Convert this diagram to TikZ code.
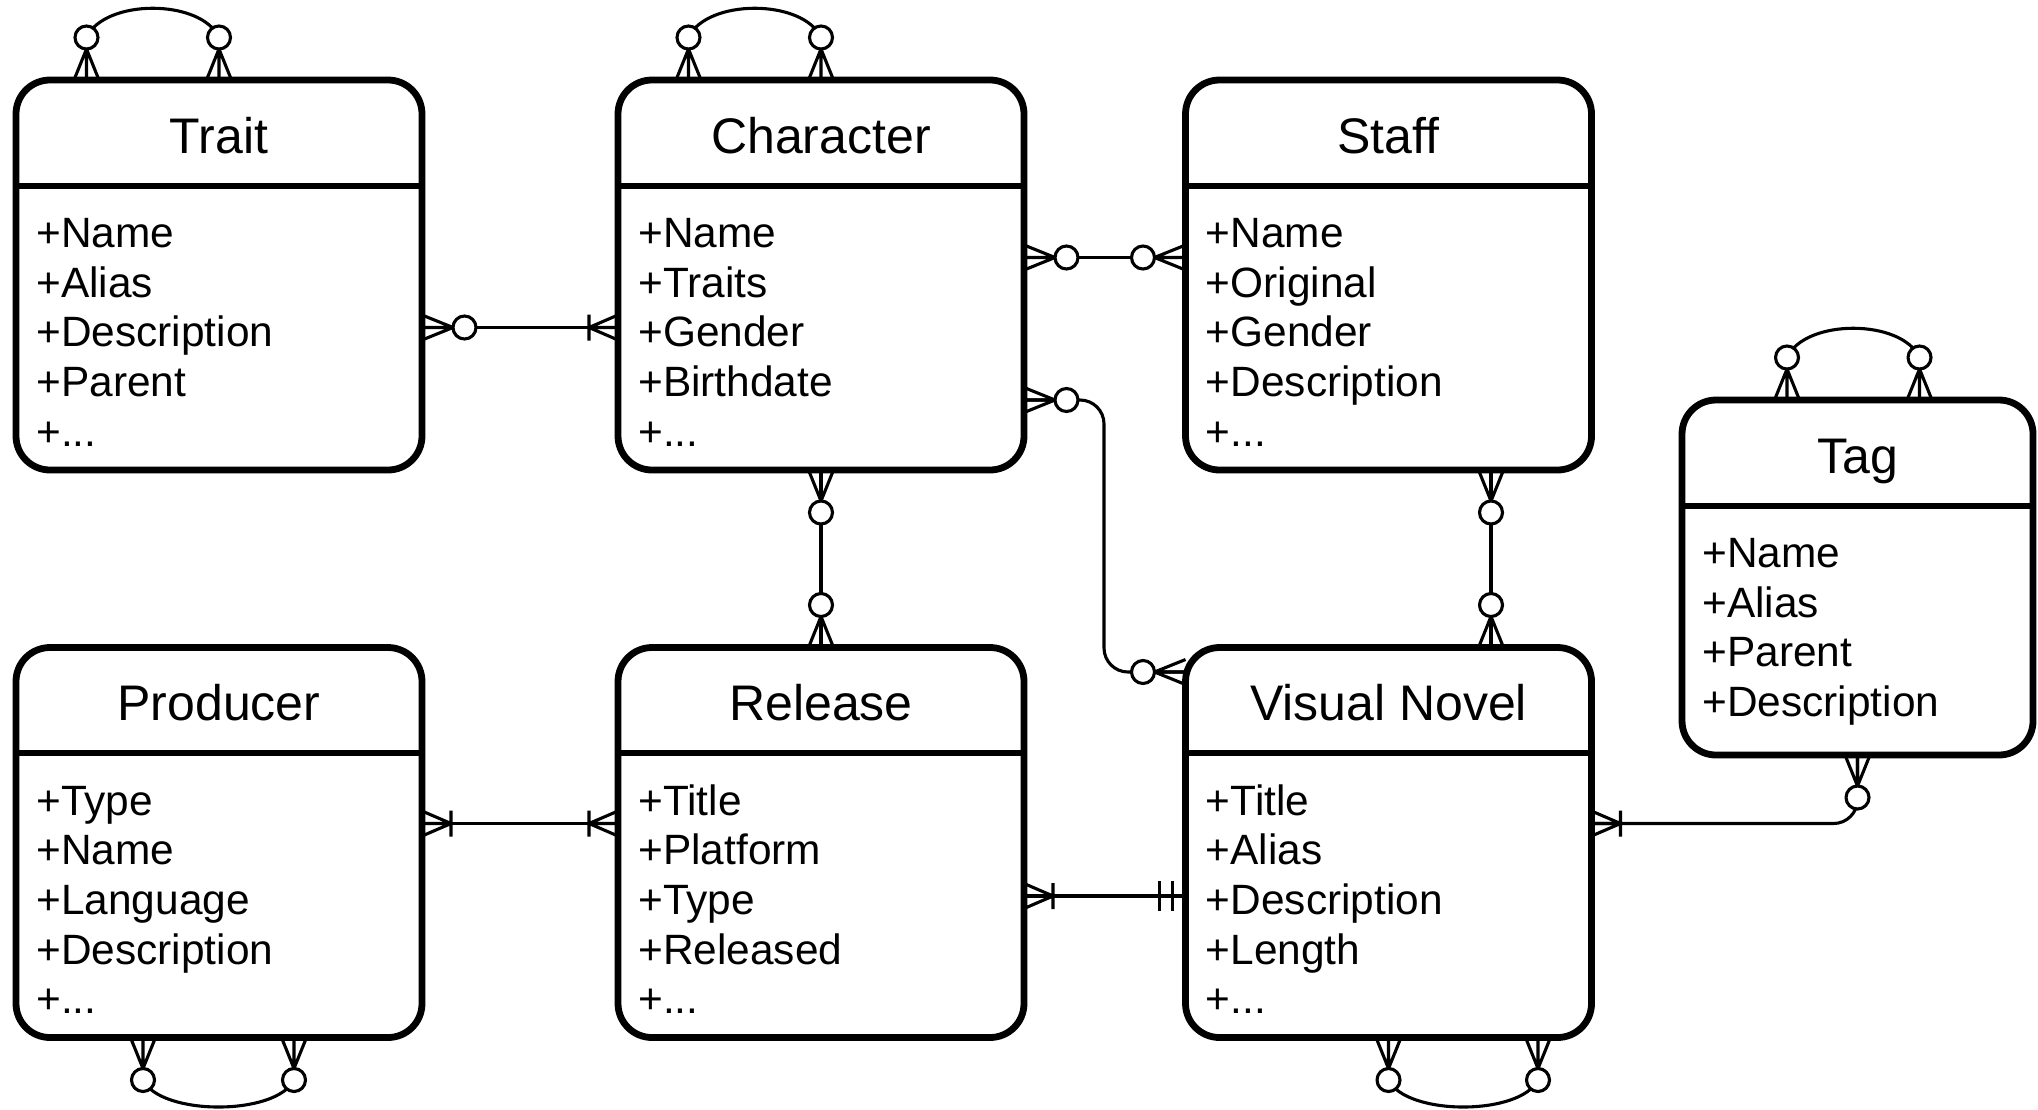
\documentclass[tikz,border=0pt]{standalone}
\usepackage{fontspec}
\setmainfont{Liberation Sans}
\begin{document}
\begin{tikzpicture}[x=0.5pt,y=-0.5pt,
  entity/.style={draw, line width=3.4pt, rounded corners=17pt, inner sep=0pt, outer sep=0pt,
    anchor=north west, minimum width=203pt, minimum height=195pt, fill=white},
  hline/.style={line width=3.4pt},
  etitle/.style={anchor=base, font=\fontsize{25}{30}\selectfont, inner sep=0pt},
  eattr/.style={anchor=base west, font=\fontsize{21.2}{25}\selectfont, inner sep=0pt},
  conn/.style={line width=1.55pt, line join=round},
  zmany/.pic={
    \draw[conn] (0,12.5) -- (31,0) -- (0,-12.5) (0,0) -- (31,0);
    \draw[conn, fill=white] (42.5,0) circle[radius=5.75pt];
  },
  omany/.pic={
    \draw[conn] (0,12.5) -- (29,0) -- (0,-12.5) (0,0) -- (29,0) (29,13) -- (29,-13);
  },
  mone/.pic={
    \draw[conn] (13,15) -- (13,-15) (26,15) -- (26,-15);
  }]
\useasboundingbox (0,0) rectangle (2038,1109);
\fill[white] (0,0) rectangle (2038,1109);

% entities
\node[entity] (trait) at (16,80) {};
\node[entity] (char) at (618,80) {};
\node[entity] (staff) at (1185.5,80) {};
\node[entity, minimum width=175.5pt, minimum height=177.5pt] (tag) at (1682,400) {};
\node[entity] (prod) at (16,647.5) {};
\node[entity] (rel) at (618,647.5) {};
\node[entity] (vn) at (1185.5,647.5) {};

% header separators
\draw[hline] (trait.west |- 0,186) -- (trait.east |- 0,186);
\draw[hline] (char.west |- 0,186) -- (char.east |- 0,186);
\draw[hline] (staff.west |- 0,186) -- (staff.east |- 0,186);
\draw[hline] (tag.west |- 0,506) -- (tag.east |- 0,506);
\draw[hline] (prod.west |- 0,753) -- (prod.east |- 0,753);
\draw[hline] (rel.west |- 0,753) -- (rel.east |- 0,753);
\draw[hline] (vn.west |- 0,753) -- (vn.east |- 0,753);

% titles
\node[etitle] (traitT) at (trait.north |- 0,153) {Trait};
\node[etitle] (charT) at (char.north |- 0,153) {Character};
\node[etitle] (staffT) at (staff.north |- 0,153) {Staff};
\node[etitle] (tagT) at (tag.north |- 0,473) {Tag};
\node[etitle] (prodT) at (prod.north |- 0,720.5) {Producer};
\node[etitle] (relT) at (rel.north |- 0,720.5) {Release};
\node[etitle] (vnT) at (vn.north |- 0,720.5) {Visual Novel};

% attributes: Trait
\node[eattr] (tr1) at (36,247.5) {+Name};
\node[eattr] (tr2) at (36,297.2) {+Alias};
\node[eattr] (tr3) at (36,346.9) {+Description};
\node[eattr] (tr4) at (36,396.6) {+Parent};
\node[eattr] (tr5) at (36,446.3) {+...};
% Character
\node[eattr] (ch1) at (638,247.5) {+Name};
\node[eattr] (ch2) at (638,297.2) {+Traits};
\node[eattr] (ch3) at (638,346.9) {+Gender};
\node[eattr] (ch4) at (638,396.6) {+Birthdate};
\node[eattr] (ch5) at (638,446.3) {+...};
% Staff
\node[eattr] (st1) at (1205.5,247.5) {+Name};
\node[eattr] (st2) at (1205.5,297.2) {+Original};
\node[eattr] (st3) at (1205.5,346.9) {+Gender};
\node[eattr] (st4) at (1205.5,396.6) {+Description};
\node[eattr] (st5) at (1205.5,446.3) {+...};
% Tag
\node[eattr] (tg1) at (1702,567.5) {+Name};
\node[eattr] (tg2) at (1702,617.2) {+Alias};
\node[eattr] (tg3) at (1702,666.9) {+Parent};
\node[eattr] (tg4) at (1702,716.6) {+Description};
% Producer
\node[eattr] (pr1) at (36,815) {+Type};
\node[eattr] (pr2) at (36,864.7) {+Name};
\node[eattr] (pr3) at (36,914.4) {+Language};
\node[eattr] (pr4) at (36,964.1) {+Description};
\node[eattr] (pr5) at (36,1013.8) {+...};
% Release
\node[eattr] (re1) at (638,815) {+Title};
\node[eattr] (re2) at (638,864.7) {+Platform};
\node[eattr] (re3) at (638,914.4) {+Type};
\node[eattr] (re4) at (638,964.1) {+Released};
\node[eattr] (re5) at (638,1013.8) {+...};
% Visual Novel
\node[eattr] (vn1) at (1205.5,815) {+Title};
\node[eattr] (vn2) at (1205.5,864.7) {+Alias};
\node[eattr] (vn3) at (1205.5,914.4) {+Description};
\node[eattr] (vn4) at (1205.5,964.1) {+Length};
\node[eattr] (vn5) at (1205.5,1013.8) {+...};

% connectors
\draw[conn] (trait.east |- 0,327.5) -- (char.west |- 0,327.5);
\draw[conn] (char.east |- 0,257.5) -- (staff.west |- 0,257.5);
\draw[conn, rounded corners=12pt] (char.east |- 0,400) -- (1104,400) -- (1104,672) -- (vn.west |- 0,672);
\draw[conn] (char.south) -- (rel.north);
\draw[conn] (staff.south -| 1491,0) -- (vn.north -| 1491,0);
\draw[conn] (prod.east |- 0,823.5) -- (rel.west |- 0,823.5);
\draw[conn] (rel.east |- 0,896) -- (vn.west |- 0,896);
\draw[conn, rounded corners=12pt] (vn.east |- 0,823.5) -- (tag.south |- 0,823.5) -- (tag.south);

% self loops
\draw[conn] (86.5,37.5) .. controls (104.5,-1.5) and (201,-1.5) .. (219,37.5);
\draw[conn] (688.5,37.5) .. controls (706.5,-1.5) and (803,-1.5) .. (821,37.5);
\draw[conn] (1787,357.5) .. controls (1805,318.5) and (1901.5,318.5) .. (1919.5,357.5);
\draw[conn] (143,1080) .. controls (161,1116) and (276,1116) .. (294,1080);
\draw[conn] (1388.5,1080) .. controls (1406.5,1116) and (1520,1116) .. (1538,1080);

% end markers
\pic at (trait.east |- 0,327.5) {zmany};
\pic[rotate=180] at (char.west |- 0,327.5) {omany};
\pic at (char.east |- 0,257.5) {zmany};
\pic[rotate=180] at (staff.west |- 0,257.5) {zmany};
\pic at (char.east |- 0,400) {zmany};
\pic[rotate=180] at (vn.west |- 0,672) {zmany};
\pic[rotate=-90] at (char.south) {zmany};
\pic[rotate=90] at (rel.north) {zmany};
\pic[rotate=-90] at (staff.south -| 1491,0) {zmany};
\pic[rotate=90] at (vn.north -| 1491,0) {zmany};
\pic at (prod.east |- 0,823.5) {omany};
\pic[rotate=180] at (rel.west |- 0,823.5) {omany};
\pic at (rel.east |- 0,896) {omany};
\pic[rotate=180] at (vn.west |- 0,896) {mone};
\pic at (vn.east |- 0,823.5) {omany};
\pic[rotate=-90] at (tag.south) {zmany};

\pic[rotate=90] at (trait.north -| 86.5,0) {zmany};
\pic[rotate=90] at (trait.north -| 219,0) {zmany};
\pic[rotate=90] at (char.north -| 688.5,0) {zmany};
\pic[rotate=90] at (char.north -| 821,0) {zmany};
\pic[rotate=90] at (tag.north -| 1787,0) {zmany};
\pic[rotate=90] at (tag.north -| 1919.5,0) {zmany};
\pic[rotate=-90] at (prod.south -| 143,0) {zmany};
\pic[rotate=-90] at (prod.south -| 294,0) {zmany};
\pic[rotate=-90] at (vn.south -| 1388.5,0) {zmany};
\pic[rotate=-90] at (vn.south -| 1538,0) {zmany};
\end{tikzpicture}
\end{document}
